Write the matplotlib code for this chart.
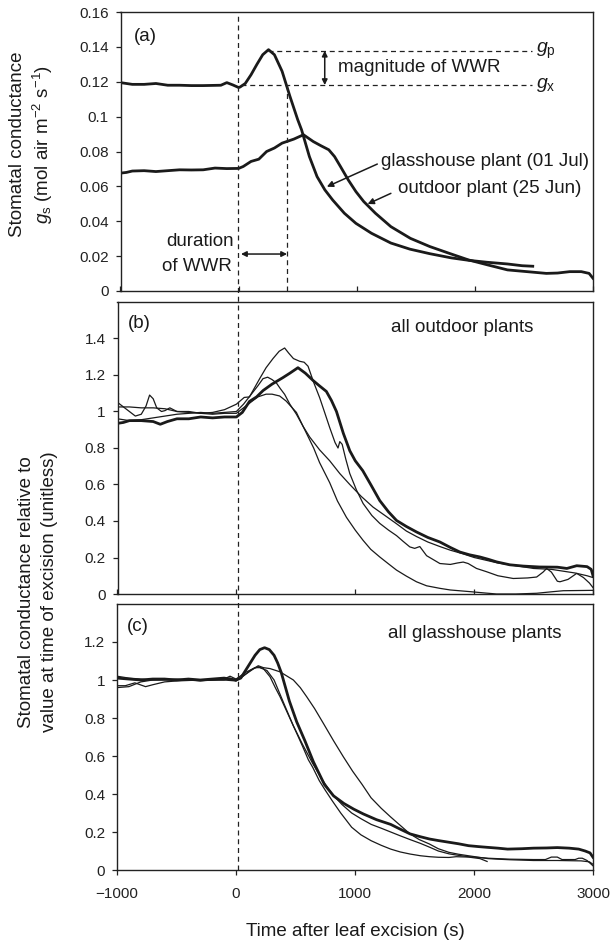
"""
Stomatal conductance after leaf excision: three stacked panels,
(a) absolute g_s for two plants, (b)/(c) relative to value at excision.
"""

import matplotlib
matplotlib.use("Agg")
import matplotlib.pyplot as plt
from matplotlib.ticker import FuncFormatter
from matplotlib.transforms import blended_transform_factory

plt.rcParams["font.family"] = ["Liberation Sans", "DejaVu Sans"]
plt.rcParams["mathtext.fontset"] = "custom"
plt.rcParams["mathtext.rm"] = "Liberation Sans"
plt.rcParams["mathtext.it"] = "Liberation Sans:italic"

INK = "#1a1a1a"

# ---- data: panel (a), absolute conductance (mol air m-2 s-1) ----
t_a_glass = [-1000, -950, -900, -800, -700, -600, -500, -400, -300, -150, -100, -50, 0,
             13, 56, 105, 155, 204, 253, 303, 368, 434, 500, 533, 599, 664, 730, 796,
             895, 993, 1125, 1289, 1450, 1618, 1800, 1947, 2100, 2276, 2400, 2490]
gs_a_glass = [0.1195, 0.119, 0.1185, 0.1185, 0.119, 0.118, 0.118, 0.1178, 0.1178, 0.118, 0.1195, 0.1182, 0.1167,
              0.117, 0.119, 0.124, 0.130, 0.1355, 0.1384, 0.1355, 0.126, 0.1117, 0.0983, 0.0924, 0.0771, 0.0656, 0.058, 0.0522,
              0.0446, 0.0388, 0.0331, 0.0275, 0.024, 0.0214, 0.019, 0.0176, 0.0165, 0.0155, 0.0145, 0.0142]

t_a_out = [-1000, -950, -900, -800, -700, -600, -500, -400, -300, -200, -100, 0,
           39, 105, 171, 237, 303, 368, 467, 549, 632, 697, 763, 812, 862, 928, 993, 1059,
           1158, 1289, 1454, 1618, 1783, 1947, 2112, 2276, 2441, 2605, 2700, 2803, 2901, 2967, 3000]
gs_a_out = [0.0676, 0.068, 0.0688, 0.069, 0.0685, 0.069, 0.0695, 0.0694, 0.0695, 0.0705, 0.0702, 0.0703,
            0.0714, 0.0743, 0.0756, 0.080, 0.082, 0.0848, 0.0871, 0.0896, 0.0857, 0.0833, 0.081, 0.0771, 0.0714, 0.0637, 0.057, 0.0513,
            0.0446, 0.0369, 0.0302, 0.0255, 0.0216, 0.0178, 0.0149, 0.0121, 0.0111, 0.0101, 0.0103, 0.0111, 0.0111, 0.0101, 0.0073]

# ---- data: panel (b), all outdoor plants (relative) ----
t_b_thick = [-1000, -950, -900, -800, -700, -640, -580, -500, -400, -300, -200, -100, 0,
             50, 110, 170, 225, 300, 390, 450, 518, 580, 645, 700, 757, 800, 842, 900, 954,
             1000, 1063, 1130, 1206, 1280, 1347, 1430, 1515, 1610, 1712, 1800, 1880, 1960, 2048,
             2120, 2189, 2300, 2413, 2550, 2700, 2780, 2863, 2950, 2985, 3000]
g_b_thick = [0.935, 0.94, 0.95, 0.95, 0.945, 0.93, 0.945, 0.96, 0.96, 0.97, 0.965, 0.97, 0.97,
             0.995, 1.055, 1.08, 1.115, 1.15, 1.185, 1.21, 1.24, 1.21, 1.17, 1.14, 1.11, 1.06, 1.0, 0.88, 0.785,
             0.73, 0.676, 0.60, 0.512, 0.45, 0.403, 0.37, 0.34, 0.31, 0.285, 0.255, 0.23, 0.215, 0.203,
             0.19, 0.176, 0.16, 0.153, 0.148, 0.147, 0.14, 0.155, 0.15, 0.135, 0.10]

t_b_A = [-1000, -900, -800, -700, -600, -500, -400, -300, -200, -100, 0,
         66, 110, 196, 250, 308, 360, 406, 440, 480, 533, 570, 603, 650, 701, 745, 785, 830,
         855, 870, 890, 920, 954, 1010, 1066, 1140, 1206, 1280, 1347, 1400, 1459, 1500, 1543,
         1600, 1712, 1800, 1860, 1908, 1950, 2020, 2105, 2200, 2329, 2450, 2526, 2580, 2610,
         2650, 2700, 2722, 2790, 2863, 2920, 2970, 3000]
g_b_A = [1.025, 1.025, 1.02, 1.02, 1.015, 1.0, 0.995, 0.99, 0.995, 1.01, 1.04,
         1.077, 1.08, 1.18, 1.24, 1.29, 1.33, 1.348, 1.32, 1.29, 1.275, 1.27, 1.248, 1.16, 1.075, 0.99, 0.912, 0.83,
         0.80, 0.835, 0.82, 0.74, 0.66, 0.57, 0.496, 0.43, 0.387, 0.35, 0.32, 0.29, 0.258, 0.25, 0.26,
         0.21, 0.167, 0.162, 0.17, 0.175, 0.167, 0.14, 0.122, 0.10, 0.085, 0.088, 0.093, 0.12, 0.14,
         0.12, 0.07, 0.067, 0.08, 0.113, 0.09, 0.06, 0.035]

t_b_B = [-1000, -950, -900, -800, -700, -600, -500, -400, -300, -200, -100, 0,
         60, 120, 180, 224, 263, 300, 336, 370, 406, 450, 505, 560, 617, 700, 785, 870, 954,
         1050, 1150, 1250, 1347, 1430, 1515, 1610, 1712, 1800, 1908, 2000, 2100, 2200, 2350,
         2500, 2650, 2750, 2850, 2950, 3000]
g_b_B = [0.96, 0.955, 0.95, 0.955, 0.965, 0.975, 0.985, 0.99, 0.995, 0.99, 0.995, 1.0,
         1.04, 1.09, 1.14, 1.18, 1.188, 1.175, 1.157, 1.125, 1.094, 1.04, 0.985, 0.92, 0.86, 0.79, 0.73, 0.66, 0.60,
         0.535, 0.476, 0.43, 0.385, 0.345, 0.315, 0.285, 0.26, 0.24, 0.22, 0.20, 0.185, 0.17, 0.155,
         0.14, 0.135, 0.125, 0.115, 0.10, 0.09]

t_b_C = [-1000, -960, -900, -850, -800, -760, -730, -700, -670, -630, -600, -560, -500, -400,
         -300, -200, -100, 0, 100, 180, 250, 300, 364, 419, 470, 505, 560, 650, 700, 785, 850,
         926, 1000, 1066, 1130, 1206, 1280, 1347, 1430, 1515, 1600, 1712, 1800, 1964, 2100,
         2189, 2350, 2526, 2650, 2750, 3000]
g_b_C = [1.05, 1.03, 1.0, 0.975, 0.985, 1.03, 1.09, 1.07, 1.02, 1.0, 1.005, 1.02, 1.0, 1.0,
         0.99, 0.985, 0.99, 0.99, 1.04, 1.08, 1.095, 1.095, 1.085, 1.057, 1.02, 0.995, 0.92, 0.80, 0.72, 0.61, 0.51,
         0.42, 0.35, 0.294, 0.245, 0.203, 0.165, 0.131, 0.098, 0.067, 0.045, 0.031, 0.022, 0.013, 0.005,
         0.0, 0.0, 0.004, 0.012, 0.018, 0.02]

# ---- data: panel (c), all glasshouse plants (relative) ----
t_c_thick = [-1000, -900, -800, -700, -600, -500, -400, -300, -200, -100, 0,
             40, 80, 120, 160, 200, 240, 280, 320, 350, 380, 448, 510, 579, 650, 743, 820, 907,
             990, 1070, 1180, 1300, 1380, 1463, 1550, 1627, 1700, 1790, 1870, 1954, 2040, 2118,
             2200, 2282, 2400, 2500, 2610, 2700, 2800, 2880, 2934, 2975, 3000]
g_c_thick = [1.01, 1.005, 1.0, 1.005, 1.005, 1.0, 1.005, 1.0, 1.005, 1.01, 1.0,
             1.01, 1.05, 1.09, 1.13, 1.16, 1.17, 1.16, 1.13, 1.09, 1.04, 0.89, 0.78, 0.68, 0.57, 0.45, 0.39, 0.35,
             0.32, 0.295, 0.265, 0.24, 0.215, 0.19, 0.175, 0.163, 0.155, 0.146, 0.138, 0.128, 0.123, 0.119,
             0.115, 0.11, 0.112, 0.115, 0.116, 0.118, 0.115, 0.11, 0.10, 0.09, 0.067]

t_c_T1 = [-1000, -900, -700, -500, -300, -100, 0, 60, 120, 187, 230, 286, 370, 430, 482,
          540, 594, 660, 734, 820, 902, 980, 1060, 1135, 1220, 1298, 1380, 1462, 1540, 1625,
          1700, 1789, 1870, 1953, 2040, 2118, 2200, 2300, 2500, 2700, 2900, 2970, 3000]
g_c_T1 = [1.02, 1.01, 1.0, 1.0, 1.0, 1.0, 0.995, 1.02, 1.05, 1.075, 1.065, 1.06, 1.043, 1.02, 1.0,
          0.96, 0.912, 0.85, 0.772, 0.68, 0.596, 0.52, 0.45, 0.38, 0.325, 0.28, 0.235, 0.19, 0.16, 0.137,
          0.112, 0.093, 0.083, 0.075, 0.067, 0.06, 0.057, 0.054, 0.05, 0.05, 0.048, 0.043, 0.03]

t_c_T2 = [-1000, -930, -850, -760, -700, -600, -500, -300, -100, -50, 0, 80, 150, 187, 230,
          286, 330, 370, 430, 481, 510, 560, 608, 645, 700, 750, 808, 880, 972, 1050, 1136,
          1220, 1300, 1380, 1463, 1550, 1627, 1700, 1790, 1850, 1954, 2050, 2110]
g_c_T2 = [0.97, 0.97, 0.985, 0.965, 0.975, 0.99, 0.995, 1.0, 1.0, 1.01, 0.995, 1.03, 1.06, 1.07, 1.06,
          1.017, 0.96, 0.912, 0.83, 0.76, 0.72, 0.65, 0.58, 0.54, 0.47, 0.42, 0.365, 0.30, 0.225, 0.185, 0.154,
          0.13, 0.11, 0.095, 0.084, 0.075, 0.07, 0.067, 0.066, 0.07, 0.068, 0.06, 0.045]

t_c_T3 = [-1000, -900, -800, -700, -500, -300, -100, -50, 0, 80, 160, 200, 260, 320, 400,
          481, 560, 645, 730, 808, 890, 972, 1050, 1136, 1220, 1300, 1380, 1463, 1550, 1627,
          1700, 1790, 1870, 1954, 2118, 2300, 2500, 2600, 2650, 2700, 2740, 2850, 2880, 2910,
          2950, 3000]
g_c_T3 = [0.96, 0.965, 0.99, 1.0, 1.005, 0.995, 1.005, 1.02, 1.005, 1.04, 1.065, 1.065, 1.05, 1.0, 0.88,
          0.76, 0.66, 0.56, 0.47, 0.40, 0.345, 0.30, 0.27, 0.24, 0.22, 0.20, 0.18, 0.16, 0.14, 0.12,
          0.10, 0.085, 0.077, 0.07, 0.062, 0.057, 0.055, 0.055, 0.068, 0.068, 0.055, 0.055, 0.062, 0.062,
          0.05, 0.022]

# annotation values
t_excision = 20
t_wwr_end = 410
g_peak = 0.1378
g_excision = 0.1181

# ---- figure and axes ----
W, H = 612, 944
fig = plt.figure(figsize=(W / 100, H / 100), dpi=100)
ax_a = fig.add_axes([120.5 / W, 1 - 291 / H, (593 - 120.5) / W, 279 / H])
ax_b = fig.add_axes([117.5 / W, 1 - 594 / H, (593 - 117.5) / W, 292 / H])
ax_c = fig.add_axes([117 / W, 1 - 870 / H, (593 - 117) / W, 266 / H])

fmt = FuncFormatter(lambda v, p: "%g" % round(v, 3))
for ax, top, yt in [(ax_a, 0.16, [i * 0.02 for i in range(9)]),
                    (ax_b, 1.6, [i * 0.2 for i in range(8)]),
                    (ax_c, 1.4, [i * 0.2 for i in range(7)])]:
    ax.set_xlim(-1000, 3000)
    ax.set_ylim(0, top)
    ax.set_yticks(yt)
    ax.yaxis.set_major_formatter(fmt)
    ax.set_xticks([-1000, 0, 1000, 2000, 3000])
    for s in ax.spines.values():
        s.set_color("#222222")
        s.set_linewidth(1.0)
    ax.tick_params(axis="y", direction="out", length=3.5, width=0.9, pad=5,
                   labelsize=11, colors="#222222")
    ax.tick_params(axis="x", direction="in", length=3.5, width=0.9,
                   labelbottom=False, colors="#222222")

ax_c.tick_params(axis="x", direction="out", labelbottom=True, pad=9, labelsize=11)

# ---- curves ----
thick, thin = 2.0, 0.9
ax_a.plot(t_a_out, gs_a_out, color=INK, lw=thick)
ax_a.plot(t_a_glass, gs_a_glass, color=INK, lw=thick)

ax_b.plot(t_b_C, g_b_C, color=INK, lw=thin)
ax_b.plot(t_b_B, g_b_B, color=INK, lw=thin)
ax_b.plot(t_b_A, g_b_A, color=INK, lw=thin)
ax_b.plot(t_b_thick, g_b_thick, color=INK, lw=thick)

ax_c.plot(t_c_T1, g_c_T1, color=INK, lw=thin)
ax_c.plot(t_c_T2, g_c_T2, color=INK, lw=thin)
ax_c.plot(t_c_T3, g_c_T3, color=INK, lw=thin)
ax_c.plot(t_c_thick, g_c_thick, color=INK, lw=thick)

# ---- dashed vertical line at time of excision, through all panels ----
dash = dict(color="#222222", lw=0.9, dashes=(4, 3))
trans = blended_transform_factory(ax_c.transData, fig.transFigure)
fig.add_artist(plt.Line2D([t_excision, t_excision], [1 - 870 / H, 1 - 12 / H],
                          transform=trans, **dash))

# ---- panel (a) annotations ----
ax_a.plot([250, 2480], [g_peak, g_peak], **dash)
ax_a.plot([t_excision, 2480], [g_excision, g_excision], **dash)
ax_a.plot([t_wwr_end, t_wwr_end], [0, g_excision], **dash)
ax_a.text(2515, g_peak, r"$g_\mathrm{p}$", fontsize=14, va="center", color=INK)
ax_a.text(2515, g_excision, r"$g_\mathrm{x}$", fontsize=14, va="center", color=INK)

arr2 = dict(arrowstyle="<|-|>", color=INK, lw=1.1, mutation_scale=8,
            shrinkA=0, shrinkB=0)
ax_a.annotate("", xy=(729, g_peak), xytext=(729, g_excision), arrowprops=arr2)
ax_a.text(845, 0.128, "magnitude of WWR", fontsize=13.5, va="center", color=INK)

ax_a.annotate("", xy=(t_wwr_end, 0.0212), xytext=(t_excision, 0.0212), arrowprops=arr2)
ax_a.text(-330, 0.0283, "duration", fontsize=13.5, ha="center", va="center", color=INK)
ax_a.text(-350, 0.0139, "of WWR", fontsize=13.5, ha="center", va="center", color=INK)

arr1 = dict(arrowstyle="-|>", color=INK, lw=1.1, mutation_scale=9,
            shrinkA=0, shrinkB=0)
ax_a.annotate("", xy=(747, 0.0598), xytext=(1174, 0.0728), arrowprops=arr1)
ax_a.text(1207, 0.0742, "glasshouse plant (01 Jul)", fontsize=13.5, va="center", color=INK)
ax_a.annotate("", xy=(1092, 0.0499), xytext=(1289, 0.056), arrowprops=arr1)
ax_a.text(1349, 0.0585, "outdoor plant (25 Jun)", fontsize=13.5, va="center", color=INK)

# ---- panel letters and headers ----
ax_a.text(0.028, 0.911, "(a)", transform=ax_a.transAxes, fontsize=13.5, va="center", color=INK)
ax_b.text(0.021, 0.928, "(b)", transform=ax_b.transAxes, fontsize=13.5, va="center", color=INK)
ax_c.text(0.020, 0.915, "(c)", transform=ax_c.transAxes, fontsize=13.5, va="center", color=INK)
ax_b.text(0.576, 0.911, "all outdoor plants", transform=ax_b.transAxes,
          fontsize=13.5, va="center", color=INK)
ax_c.text(0.569, 0.89, "all glasshouse plants", transform=ax_c.transAxes,
          fontsize=13.5, va="center", color=INK)

# ---- axis labels ----
ya = 1 - 144 / H
fig.text(18 / W, ya, "Stomatal conductance", rotation=90, fontsize=13.5,
         ha="center", va="center", color=INK)
fig.text(43 / W, ya, r"$g_\mathrm{s}$ (mol air m$^{-2}$ s$^{-1}$)", rotation=90,
         fontsize=13.5, ha="center", va="center", color=INK)

ybc = 1 - 592 / H
fig.text(27 / W, ybc, "Stomatal conductance relative to", rotation=90, fontsize=13.5,
         ha="center", va="center", color=INK)
fig.text(50 / W, ybc, "value at time of excision (unitless)", rotation=90,
         fontsize=13.5, ha="center", va="center", color=INK)

fig.text(355 / W, 1 - 932 / H, "Time after leaf excision (s)", fontsize=13.5,
         ha="center", va="center", color=INK)

fig.savefig("out.png", dpi=100)
